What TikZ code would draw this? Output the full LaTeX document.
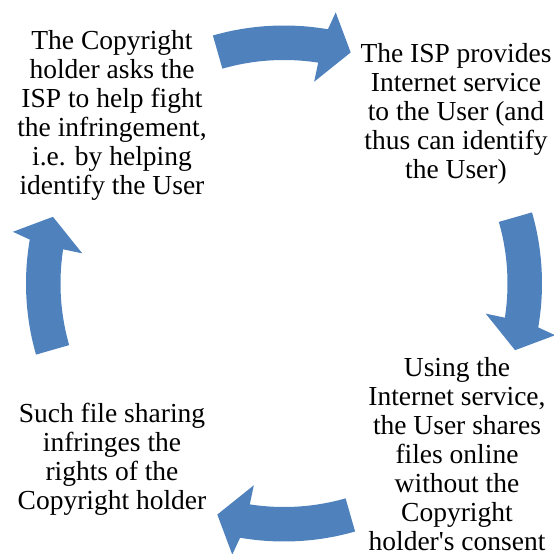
\documentclass[tikz,border=0pt]{standalone}
\usepackage{fontspec}
\setmainfont{Liberation Serif}
\definecolor{cycleblue}{RGB}{79,129,189}
\tikzset{
  stage/.style={align=center, inner sep=0pt, font=\fontsize{27.5}{29}\selectfont},
  cyclearrow/.style={fill=cycleblue},
}

\begin{document}
\begin{tikzpicture}[x=1pt,y=1pt]
  \useasboundingbox (-284,-270.5) rectangle (270,283.5);
  \node[stage] (holder) at (-172,168.5) {The Copyright\\holder asks the\\ISP to help fight\\the infringement,\\i.e. by helping\\identify the User};
  \node[stage] (isp) at (172,170) {The ISP provides\\Internet service\\to the User (and\\thus can identify\\the User)};
  \node[stage] (user) at (173,-171) {Using the\\Internet service,\\the User shares\\files online\\without the\\Copyright\\holder\textquotesingle s consent};
  \node[stage] (sharing) at (-172,-175.5) {Such file sharing\\infringes the\\rights of the\\Copyright holder};
  % block arrows round the cycle
  \foreach \r in {0,-90,-180,-270}
    \fill[cyclearrow] (106+\r:258pt)
      arc[start angle=106+\r, end angle=80.2+\r, radius=258pt]
      -- (79.2+\r:276pt) -- (73.9+\r:240.5pt) -- (81.5+\r:204pt) -- (81.2+\r:223.5pt)
      arc[start angle=81.2+\r, end angle=106+\r, radius=223.5pt] -- cycle;
\end{tikzpicture}
\end{document}
